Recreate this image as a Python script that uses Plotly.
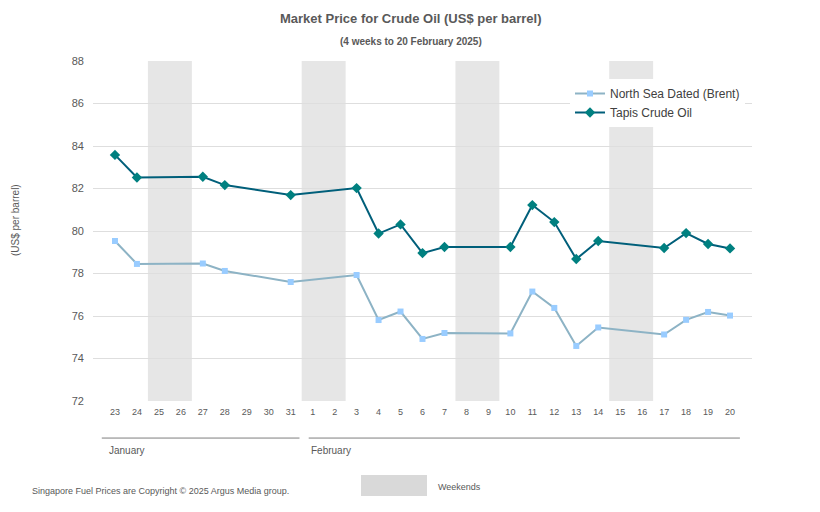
import plotly.graph_objects as go

days = ["23", "24", "25", "26", "27", "28", "29", "30", "31",
        "1", "2", "3", "4", "5", "6", "7", "8", "9", "10",
        "11", "12", "13", "14", "15", "16", "17", "18", "19", "20"]

brent = [79.53, 78.45, None, None, 78.47, 78.12, None, None, 77.60,
         None, None, 77.93, 75.81, 76.21, 74.92, 75.20, None, None, 75.18,
         77.15, 76.38, 74.59, 75.46, None, None, 75.13, 75.82, 76.19, 76.02]

tapis = [83.58, 82.52, None, None, 82.55, 82.16, None, None, 81.69,
         None, None, 82.02, 79.88, 80.31, 78.96, 79.25, None, None, 79.25,
         81.22, 80.42, 78.68, 79.53, None, None, 79.20, 79.90, 79.39, 79.18]

weekends = [("25", "26"), ("1", "2"), ("8", "9"), ("15", "16")]
months = ["January", "February"]
month_spans = [(-0.6, 8.4), (8.82, 28.45)]
month_label_x = [-0.36, 8.83]

TXT = "#595959"
FONT = "Liberation Sans, Arial, sans-serif"

fig = go.Figure()

fig.add_trace(go.Scatter(
    x=days, y=brent, mode="lines+markers", name="North Sea Dated (Brent)",
    connectgaps=True,
    line=dict(color="#8db3c5", width=2),
    marker=dict(symbol="square", size=6, color="#99ccff"),
))
fig.add_trace(go.Scatter(
    x=days, y=tapis, mode="lines+markers", name="Tapis Crude Oil",
    connectgaps=True,
    line=dict(color="#005f7a", width=2),
    marker=dict(symbol="diamond", size=8, color="#008080"),
))

shapes = []
for a, b in weekends:
    i0 = days.index(a)
    i1 = days.index(b)
    shapes.append(dict(type="rect", xref="x", yref="paper",
                       x0=i0 - 0.5, x1=i1 + 0.5, y0=0, y1=1,
                       fillcolor="#e6e6e6", line=dict(width=0), layer="below"))
annotations = []
for name, (x0, x1), lx in zip(months, month_spans, month_label_x):
    shapes.append(dict(type="line", xref="x", yref="paper",
                       x0=x0, x1=x1, y0=-0.109, y1=-0.109,
                       line=dict(color="#7f7f7f", width=1)))
    annotations.append(dict(text=name, xref="x", yref="paper", x=lx, y=-0.124,
                            xanchor="left", yanchor="top", showarrow=False,
                            font=dict(size=10, color=TXT, family=FONT)))

# bottom legend for weekends
shapes.append(dict(type="rect", xref="paper", yref="paper",
                   x0=(361 - 93) / 659, x1=(427 - 93) / 659,
                   y0=(401 - 496) / 340, y1=(401 - 475) / 340,
                   fillcolor="#d9d9d9", line=dict(width=0)))
annotations.append(dict(text="Weekends", xref="paper", yref="paper",
                        x=(436 - 93) / 659, y=(401 - 487) / 340,
                        xanchor="left", yanchor="middle", showarrow=False,
                        font=dict(size=9, color=TXT, family=FONT)))
annotations.append(dict(text="Singapore Fuel Prices are Copyright © 2025 Argus Media group.",
                        xref="paper", yref="paper",
                        x=(30 - 93) / 659, y=(401 - 491) / 340,
                        xanchor="left", yanchor="middle", showarrow=False,
                        font=dict(size=9, color=TXT, family=FONT)))
annotations.append(dict(text="<b>Market Price for Crude Oil (US$ per barrel)</b>",
                        xref="paper", yref="paper", x=(411 - 93) / 659, y=(401 - 18) / 340,
                        xanchor="center", yanchor="middle", showarrow=False,
                        font=dict(size=13, color=TXT, family=FONT)))
annotations.append(dict(text="<b>(4 weeks to 20 February 2025)</b>",
                        xref="paper", yref="paper", x=(411 - 93) / 659, y=(401 - 42) / 340,
                        xanchor="center", yanchor="middle", showarrow=False,
                        font=dict(size=10, color=TXT, family=FONT)))
annotations.append(dict(text="(US$ per barrel)", xref="paper", yref="paper",
                        x=(15 - 93) / 659, y=(401 - 220) / 340, textangle=-90,
                        xanchor="center", yanchor="middle", showarrow=False,
                        font=dict(size=10, color=TXT, family=FONT)))

fig.update_layout(
    width=820, height=512,
    margin=dict(l=93, r=68, t=61, b=111),
    paper_bgcolor="white", plot_bgcolor="white",
    font=dict(family=FONT, color=TXT),
    shapes=shapes, annotations=annotations,
    showlegend=True,
    legend=dict(x=(570 - 93) / 659, y=(401 - 79) / 340, xanchor="left", yanchor="top",
                bgcolor="white", font=dict(size=12, color="#404040", family=FONT),
                itemwidth=30, tracegroupgap=4),
    xaxis=dict(type="category", range=[-1, 29], showgrid=False, zeroline=False,
               showline=False, ticks="", tickfont=dict(size=9, color=TXT),
               tickangle=0, ticklabelstandoff=4, fixedrange=True),
    yaxis=dict(range=[72, 88], dtick=2, showgrid=True, gridcolor="#dedede", gridwidth=1,
               zeroline=False, showline=False, ticks="", ticklabelstandoff=8,
               tickfont=dict(size=11, color=TXT)),
)

fig.write_html("out.html", config={"displayModeBar": False},
               post_script="document.body.style.margin='0';")
